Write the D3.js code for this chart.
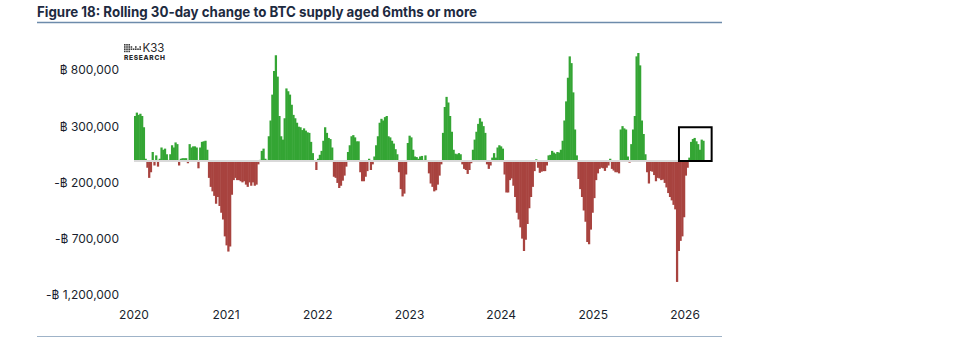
<!DOCTYPE html>
<html>
<head>
<meta charset="utf-8">
<script src="https://cdn.jsdelivr.net/npm/d3@7"></script>
<style>
  body { margin: 0; background: #fff; }
  svg text { font-family: "Inter", "Open Sans", sans-serif; }
</style>
</head>
<body>
<div id="chart"></div>
<script>
// weekly readings, thousand BTC, first week starting 2020-01-01
var startDate = "2020-01-01"
var stepDays = 7
var change6m = [
  400, 430, 410, 420, 400, 300, 20, -60, -150, -100,
  80, -40, 50, -50, 20, 120, 100, 110, 60, 10,
  60, 140, 120, 165, 150, -40, 20, 25, 25, 25,
  -20, 150, 120, 130, 130, 120, -65, 120, 170, 175,
  180, 100, -150, -230, -270, -310, -380, -320, -400, -460,
  -520, -670, -750, -805, -760, -300, -170, -150, -170, -170,
  -180, -190, -180, -210, -230, -190, -220, -190, -220, -210,
  -30, 10, 90, 110, 20, 10, 220, 360, 590, 800,
  940, 750, 400, 220, 190, 380, 645, 620, 590, 500,
  410, 380, 340, 305, 300, 275, 290, 270, 255, 250,
  170, 70, 0, -80, 20, 55, 90, 180, 300, 250,
  205, 195, 120, -140, -150, -195, -240, -220, -175, -130,
  -50, 80, 140, 220, 230, 210, 175, 175, -100, -180,
  -180, -140, -90, 20, -80, -30, 40, 140, 220, 340,
  375, 360, 390, 400, 220, 210, 180, 155, 105, 60,
  -100, -250, -315, -290, -120, 160, 225, 210, 100, 40,
  35, 20, 40, 45, 10, 50, 0, -110, -200, -230,
  -270, -260, -210, -130, -30, 250, 480, 570, 520, 400,
  260, 100, 65, 60, 70, 60, -30, -70, -80, -115,
  -80, -20, 100, 190, 260, 330, 380, 350, 310, 250,
  -30, -70, -40, 30, 70, 30, 120, 140, 130, 110,
  -120, -280, -280, -170, -155, -220, -320, -460, -520, -590,
  -690, -800, -700, -560, -420, -320, -230, -90, 15, -60,
  -105, -95, -90, -90, -40, 50, 55, 90, 75, 65,
  80, 75, 100, 180, 360, 530, 740, 930, 870, 610,
  280, 50, -160, -250, -320, -440, -540, -720, -740, -610,
  -460, -330, -170, -110, -70, -60, -65, -88, -60, -40,
  20, -70, -85, -100, -100, -110, 280, 310, 290, 280,
  40, -15, 150, 280, 400, 930, 960, 850, 360, 240,
  60, -100, -200, -90, -95, -125, -180, -150, -155, -170,
  -165, -195, -235, -285, -320, -350, -390, -430, -1075, -800,
  -710, -670, -500, -130, -60, 30, 170, 195, 205, 175,
  150, 100, 190, 180
]
var yTicks = [800000, 300000, -200000, -700000, -1200000]
var xYears = [2020, 2021, 2022, 2023, 2024, 2025, 2026]
// highlighted recent window
var boxDates = ["2025-12-08", "2026-04-17"]
var boxValues = [0, 300000]

var W = 958, H = 337
var parse = d3.timeParse("%Y-%m-%d")
var t0 = parse(startDate)
var data = change6m.map(function(v, i){
    return { date: d3.timeDay.offset(t0, i * stepDays), value: v * 1000 }
})

var x = d3.scaleTime()
    .domain([new Date(2020, 0, 1), new Date(2026, 0, 1)])
    .range([134, 685])

var y = d3.scaleLinear()
    .domain([-1200000, 800000])
    .range([296, 71])

var svg = d3.select("#chart").append("svg")
    .attr("width", W)
    .attr("height", H)

// title + rules
svg.append("text")
    .attr("x", 37)
    .attr("y", 16.5)
    .attr("font-size", "14px")
    .attr("font-weight", 700)
    .attr("fill", "#1d2a3f")
    .attr("textLength", 440)
    .attr("lengthAdjust", "spacingAndGlyphs")
    .text("Figure 18: Rolling 30-day change to BTC supply aged 6mths or more")

svg.append("line")
    .attr("x1", 37).attr("x2", 722)
    .attr("y1", 22.5).attr("y2", 22.5)
    .attr("stroke", "#6d8bab")
    .attr("stroke-width", 1.5)

svg.append("line")
    .attr("x1", 37).attr("x2", 722)
    .attr("y1", 336.5).attr("y2", 336.5)
    .attr("stroke", "#9fb3c8")
    .attr("stroke-width", 1)

// logo
var logo = svg.append("g").attr("transform", "translate(124,44)")
var dotCols = [0, 2.2, 4.4, 6.6, 8.8, 11, 13.2, 15.4]
dotCols.forEach(function(cx, i){
    var rows = i < 3 ? [0, 2.2, 4.4, 6.6] : (i % 2 ? [2.2, 4.4] : [4.4])
    rows.forEach(function(cy){
        logo.append("rect")
            .attr("x", cx).attr("y", cy)
            .attr("width", 1.6).attr("height", 1.6)
            .attr("fill", "#3a3a3a")
    })
})
logo.append("text")
    .attr("x", 18.5).attr("y", 8)
    .attr("font-size", "11.5px")
    .attr("fill", "#2a2a2a")
    .text("K33")
logo.append("text")
    .attr("x", 0).attr("y", 16)
    .attr("font-size", "6.6px")
    .attr("font-weight", 800)
    .attr("letter-spacing", "0.7px")
    .attr("fill", "#2a2a2a")
    .text("RESEARCH")

// bars
var barW = x(d3.timeDay.offset(t0, stepDays)) - x(t0)

svg.append("g")
    .selectAll("rect")
    .data(data)
    .enter()
        .append("rect")
        .attr("x", function(d){ return x(d.date) })
        .attr("width", barW + 0.5)
        .attr("y", function(d){ return d.value >= 0 ? y(d.value) : y(0) })
        .attr("height", function(d){ return Math.abs(y(d.value) - y(0)) })
        .attr("fill", function(d){ return d.value >= 0 ? "#34a534" : "#a8433f" })

// zero line
svg.append("line")
    .attr("x1", x(t0)).attr("x2", x(data[data.length - 1].date) + barW)
    .attr("y1", y(0)).attr("y2", y(0))
    .attr("stroke", "#d9d9d9")
    .attr("stroke-width", 2)

// y labels
function fmtBtc(v){
    var s = "\u0E3F " + d3.format(",")(Math.abs(v))
    return v < 0 ? "-" + s : s
}
svg.append("g")
    .selectAll("text")
    .data(yTicks)
    .enter()
        .append("text")
        .attr("x", 119)
        .attr("y", function(d){ return y(d) })
        .attr("dominant-baseline", "middle")
        .attr("text-anchor", "end")
        .attr("font-size", "12px")
        .attr("fill", "#1a1f2e")
        .text(fmtBtc)

// x labels
svg.append("g")
    .selectAll("text")
    .data(xYears)
    .enter()
        .append("text")
        .attr("x", function(d){ return x(new Date(d, 0, 1)) })
        .attr("y", 316)
        .attr("dominant-baseline", "middle")
        .attr("text-anchor", "middle")
        .attr("font-size", "12px")
        .attr("fill", "#1a1f2e")
        .text(function(d){ return d })

// highlight box
var bx0 = x(parse(boxDates[0])), bx1 = x(parse(boxDates[1]))
svg.append("rect")
    .attr("x", bx0)
    .attr("y", y(boxValues[1]))
    .attr("width", bx1 - bx0)
    .attr("height", y(boxValues[0]) - y(boxValues[1]))
    .attr("fill", "none")
    .attr("stroke", "#000")
    .attr("stroke-width", 2)
</script>
</body>
</html>
